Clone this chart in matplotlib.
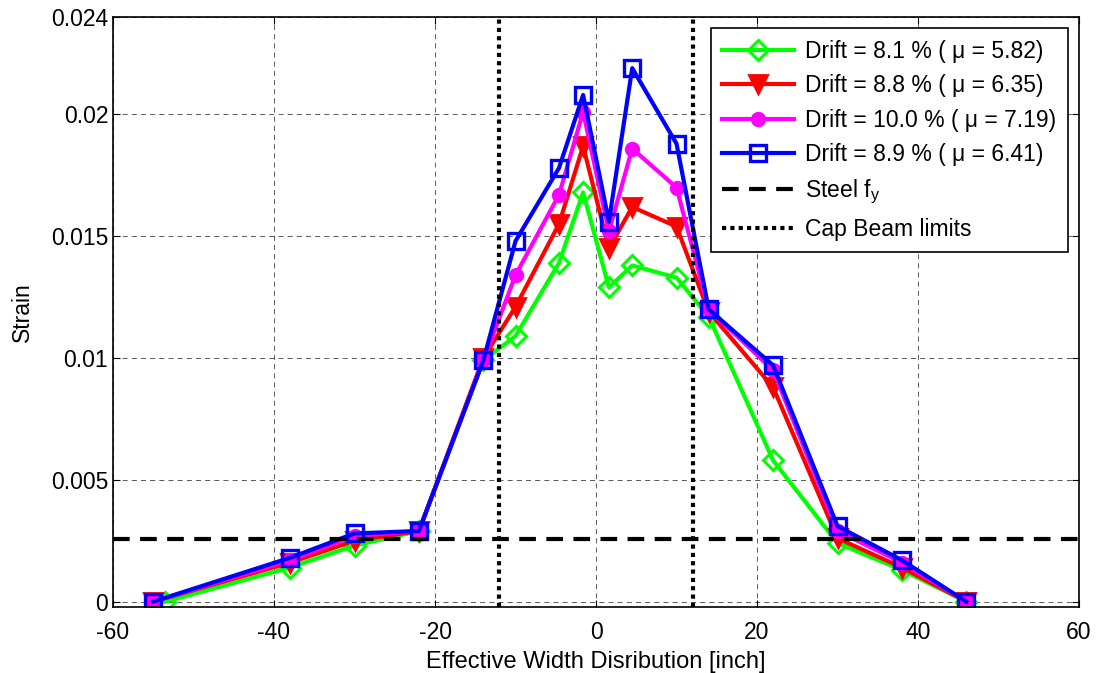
import matplotlib
matplotlib.use('Agg')
import matplotlib.pyplot as plt
import numpy as np

plt.rcParams['font.family'] = ['Liberation Sans', 'DejaVu Sans']
plt.rcParams['mathtext.fontset'] = 'custom'
plt.rcParams['mathtext.rm'] = 'Liberation Sans'
plt.rcParams['mathtext.it'] = 'Liberation Sans'
plt.rcParams['axes.unicode_minus'] = False

# positions along effective width [inch]
x_pos = [-55, -38, -30, -22, -14, -10, -4.6, -1.6, 1.6, 4.5, 10, 14, 22, 30, 38, 46]
x_green = [-53.5, -38, -30, -22, -14, -10, -4.6, -1.6, 1.6, 4.5, 10, 14, 22, 30, 38, 46]

# strains
strain_81 = [0, 0.0014, 0.0023, 0.0029, 0.0099, 0.0109, 0.0139, 0.0168, 0.0129, 0.0138, 0.0133, 0.0117, 0.0058, 0.0024, 0.0013, 0]
strain_88 = [0, 0.0016, 0.0025, 0.0029, 0.0100, 0.0121, 0.0155, 0.0187, 0.0145, 0.0162, 0.0154, 0.0119, 0.0088, 0.0026, 0.0014, 0]
strain_100 = [0, 0.0017, 0.0027, 0.0029, 0.0099, 0.0134, 0.0167, 0.0201, 0.0152, 0.0186, 0.0170, 0.0120, 0.0095, 0.0029, 0.0016, 0]
strain_89 = [0, 0.0018, 0.0028, 0.0029, 0.0099, 0.0148, 0.0178, 0.0208, 0.0156, 0.0219, 0.0188, 0.0120, 0.0097, 0.0031, 0.0017, 0]

steel_fy = 0.00258
cap_beam = [-12, 12]

fig = plt.figure(figsize=(10.96, 6.73), dpi=100)
ax = fig.add_axes([0.1031, 0.0981, 0.8814, 0.8766])

lw = 3
ax.plot(x_green, strain_81, color=(0, 1, 0), lw=lw, marker='D', ms=10, mfc='none', mew=2.2,
        label='Drift = 8.1 % ( \u03bc = 5.82)')
ax.plot(x_pos, strain_88, color='red', lw=lw, marker='v', ms=13, mfc='red', mew=2,
        label='Drift = 8.8 % ( \u03bc = 6.35)')
ax.plot(x_pos, strain_100, color='magenta', lw=lw, marker='o', ms=9, mfc='magenta', mew=2,
        label='Drift = 10.0 % ( \u03bc = 7.19)')
ax.plot(x_pos, strain_89, color='blue', lw=lw, marker='s', ms=12, mfc='none', mew=2.4,
        label='Drift = 8.9 % ( \u03bc = 6.41)')
ax.axhline(steel_fy, color='k', lw=3, ls=(0, (4, 2.5)), label='Steel f$_y$')
ax.axvline(cap_beam[0], color='k', lw=3, ls=(0, (1, 1)), label='Cap Beam limits')
ax.axvline(cap_beam[1], color='k', lw=3, ls=(0, (1, 1)))

ax.set_xlim(-60, 60)
ax.set_ylim(-0.00022, 0.024)
ax.set_xticks(np.arange(-60, 61, 20))
ax.set_yticks([0, 0.005, 0.01, 0.015, 0.02, 0.024])
ax.set_yticklabels(['0', '0.005', '0.01', '0.015', '0.02', '0.024'])
ax.grid(True, color='k', ls=(0, (6, 5)), lw=0.6, alpha=0.75)
ax.tick_params(direction='in', length=5, labelsize=16.5, top=True, right=True)
ax.tick_params(axis='x', pad=10)
for s in ax.spines.values():
    s.set_linewidth(1.2)

ax.set_xlabel('Effective Width Disribution [inch]', fontsize=17, labelpad=5)
ax.set_ylabel('Strain', fontsize=16.5, labelpad=12)

leg = ax.legend(loc='upper right', fontsize=16.5, fancybox=False, framealpha=1,
                edgecolor='k', handlelength=3.1, borderaxespad=0.5,
                labelspacing=0.5, handletextpad=0.5, borderpad=0.5)
leg.get_frame().set_linewidth(1.2)

fig.savefig('out.png', dpi=100)
